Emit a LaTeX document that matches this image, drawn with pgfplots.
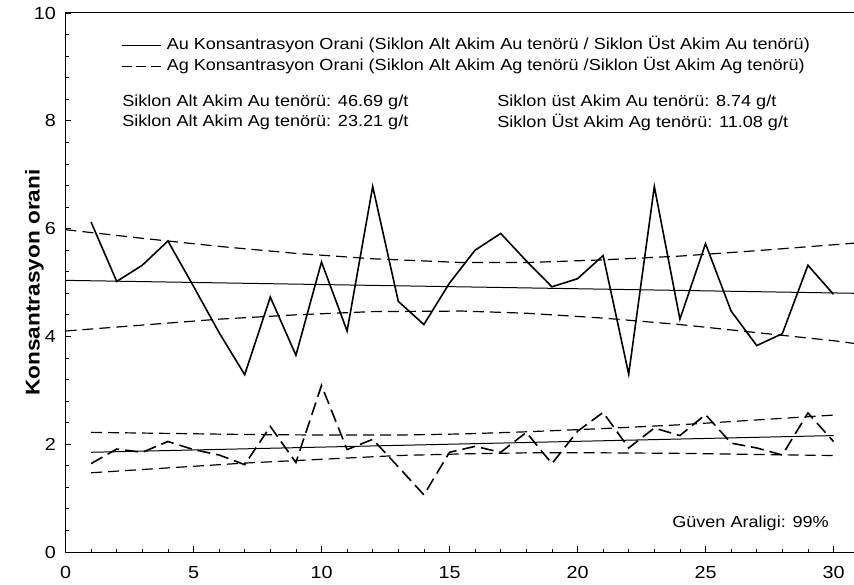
\documentclass[border=0pt]{standalone}
\usepackage{fontspec}
\setmainfont{Liberation Sans}[FakeStretch=1.13]
\usepackage{pgfplots}
\pgfplotsset{compat=1.18}
\begin{document}
\begin{tikzpicture}
\begin{axis}[
 scale only axis, width=788.5pt, height=539pt,
 xmin=0, xmax=30.8, ymin=0, ymax=10,
 axis x line*=box, axis y line*=left,
 xtick={0,5,...,30}, ytick={0,2,...,10},
 minor x tick num=4, minor y tick num=4,
 tick align=inside, xtick pos=bottom, ytick pos=left,
 major tick length=6pt, minor tick length=3.5pt,
 tick style={black, line width=0.8pt},
 axis line style={line width=1pt},
 ticklabel style={font=\fontsize{17.5}{20}\selectfont},
 /pgf/number format/assume math mode=true,
 yticklabel style={xshift=-6pt},
 xticklabel style={yshift=-11pt},
 ylabel={Konsantrasyon orani},
 ylabel style={font=\bfseries\fontsize{20}{24}\selectfont, at={(axis description cs:-0.0273,0.5)}, anchor=south, inner sep=0pt},
 legend style={at={(axis cs:2.17,9.57)}, anchor=north west, draw=none, fill=none,
   inner sep=0pt, row sep=3.5pt, column sep=4pt, font=\fontsize{16}{19}\selectfont,
   nodes={inner sep=1.5pt, text height=11.5pt, text depth=3pt}},
 legend cell align=left,
 legend image code/.code={\draw[#1] (0pt,0pt) -- (39pt,0pt);},
]
\addplot[black, line width=1.6pt, legend image post style={line width=1pt}] coordinates {
(1,6.12) (2,5.02) (3,5.32) (4,5.77) (5,4.93) (6,4.07) (7,3.29) (8,4.73) (9,3.65) (10,5.38)
(11,4.10) (12,6.78) (13,4.65) (14,4.22) (15,4.99) (16,5.60) (17,5.91) (18,5.40) (19,4.92) (20,5.07)
(21,5.50) (22,3.30) (23,6.78) (24,4.32) (25,5.72) (26,4.47) (27,3.83) (28,4.05) (29,5.32) (30,4.78)};
\addlegendentry{Au Konsantrasyon Orani (Siklon Alt Akim Au tenörü / Siklon Üst Akim Au tenörü)}
\addplot[black, line width=1.6pt, dash pattern=on 13pt off 6pt, legend image post style={line width=1pt, dash pattern=on 10pt off 4.5pt}] coordinates {
(1,1.64) (2,1.91) (3,1.85) (4,2.05) (5,1.90) (6,1.80) (7,1.62) (8,2.33) (9,1.66) (10,3.09)
(11,1.90) (12,2.09) (13,1.58) (14,1.06) (15,1.85) (16,1.96) (17,1.85) (18,2.22) (19,1.64) (20,2.24)
(21,2.59) (22,1.93) (23,2.30) (24,2.16) (25,2.55) (26,2.02) (27,1.93) (28,1.80) (29,2.58) (30,2.05)};
\addlegendentry{Ag Konsantrasyon Orani (Siklon Alt Akim Ag tenörü /Siklon Üst Akim Ag tenörü)}
% Au regression and bands
\addplot[black, line width=1pt, forget plot] coordinates {(0,5.04) (30.8,4.80)};
\addplot[black, line width=1.2pt, dash pattern=on 11pt off 6pt, forget plot] coordinates {
(0,5.98) (3,5.82) (6,5.67) (9,5.54) (12,5.44) (15.5,5.37) (18,5.37) (21,5.42) (24,5.49) (27,5.59) (30,5.70) (30.8,5.73)};
\addplot[black, line width=1.2pt, dash pattern=on 11pt off 6pt, forget plot] coordinates {
(0,4.10) (3,4.21) (6,4.32) (9,4.40) (12,4.46) (15.5,4.47) (18,4.43) (21,4.34) (24,4.22) (27,4.07) (30,3.92) (30.8,3.87)};
% Ag regression and bands
\addplot[black, line width=1pt, forget plot] coordinates {(1,1.85) (30,2.16)};
\addplot[black, line width=1.2pt, dash pattern=on 11pt off 6pt, forget plot] coordinates {
(1,2.22) (4,2.20) (7,2.18) (10,2.17) (13,2.17) (15.5,2.19) (18,2.23) (21,2.29) (24,2.36) (27,2.45) (30,2.54)};
\addplot[black, line width=1.2pt, dash pattern=on 11pt off 6pt, forget plot] coordinates {
(1,1.47) (4,1.56) (7,1.65) (10,1.72) (13,1.79) (15.5,1.82) (18,1.84) (21,1.84) (24,1.83) (27,1.81) (30,1.79)};
\node[anchor=west, inner sep=0pt, font=\fontsize{16}{19}\selectfont] at (axis cs:2.21,8.35) {Siklon Alt Akim Au tenörü: 46.69 g/t};
\node[anchor=west, inner sep=0pt, font=\fontsize{16}{19}\selectfont] at (axis cs:2.21,7.97) {Siklon Alt Akim Ag tenörü: 23.21 g/t};
\node[anchor=west, inner sep=0pt, font=\fontsize{16}{19}\selectfont] at (axis cs:16.86,8.35) {Siklon üst Akim Au tenörü: 8.74 g/t};
\node[anchor=west, inner sep=0pt, font=\fontsize{16}{19}\selectfont] at (axis cs:16.86,7.97) {Siklon Üst Akim Ag tenörü: 11.08 g/t};
\node[anchor=east, inner sep=0pt, font=\fontsize{16}{19}\selectfont] at (axis cs:29.82,0.54) {Güven Araligi: 99\%};
\end{axis}
\pgfresetboundingbox
\path ([shift={(-65.5pt,-32pt)}]current axis.south west) rectangle ([shift={(0pt,13pt)}]current axis.north east);
\end{tikzpicture}
\end{document}
